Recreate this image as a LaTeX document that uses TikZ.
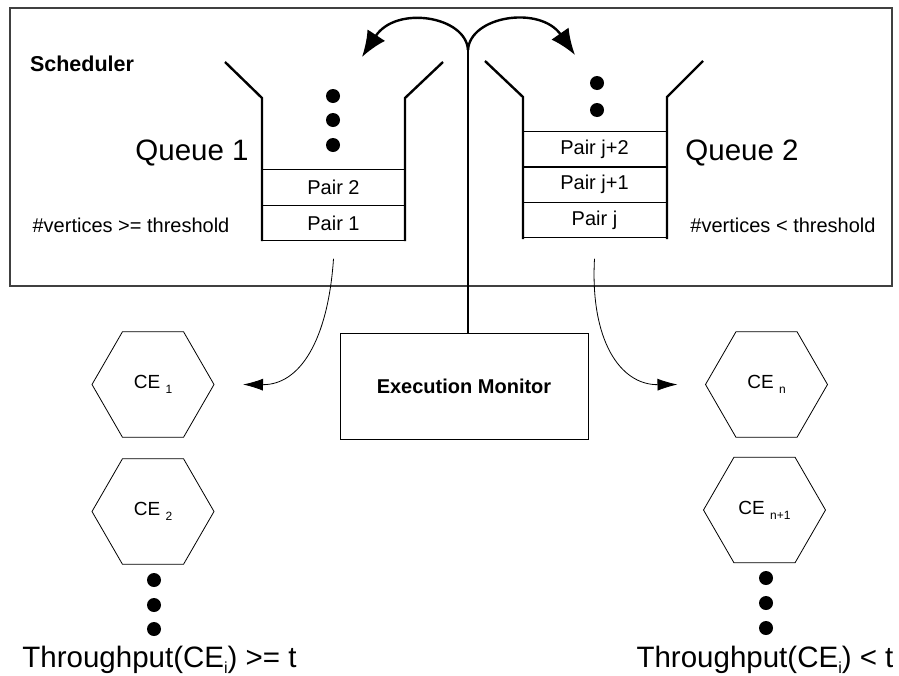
\documentclass[tikz,border=0pt]{standalone}
\usepackage{fontspec}
\setmainfont{Liberation Sans}
\usetikzlibrary{shapes.geometric,arrows.meta}
\begin{document}
\begin{tikzpicture}[x=1pt,y=-1pt,
  wall/.style={line width=2.4pt},
  pairbox/.style={draw,line width=0.9pt,minimum width=143pt,minimum height=35.5pt,inner sep=0pt,outer sep=0pt,font=\fontsize{20}{24}\selectfont},
  hexnode/.style={draw,line width=0.8pt,regular polygon,regular polygon sides=6,minimum size=122pt,inner sep=0pt,outer sep=0pt,font=\fontsize{19}{22}\selectfont},
  bigarrow/.style={line width=2.4pt,-{Latex[length=26pt,width=21pt]}},
  thinarrow/.style={line width=0.8pt,-{Latex[length=20pt,width=12pt]}},
  lbl/.style={inner sep=0pt,font=\fontsize{20}{24}\selectfont},
  big/.style={inner sep=0pt,font=\fontsize{29.5}{34}\selectfont},
  boldlbl/.style={inner sep=0pt,font=\fontsize{20}{24}\selectfont\bfseries},
  dotfill/.style={fill=black}
]
\useasboundingbox (0,0) rectangle (899,675);

% Scheduler frame
\node[draw=black!75,line width=1.1pt,minimum width=882pt,minimum height=278pt,inner sep=0pt,outer sep=0pt,anchor=north west] (sched) at (10,8) {};
\node[inner sep=0pt,font=\fontsize{21.5}{26}\selectfont\bfseries] (schedlbl) at (82,64) {Scheduler};

% Queue 1
\node[pairbox] (p2) at (333.5,187.5) {Pair 2};
\node[pairbox] (p1) at (333.5,223) {Pair 1};
\draw[wall] (225,62) -- (262,98) -- (262,241);
\draw[wall] (443,62) -- (405,98) -- (405,241);
\fill[dotfill] (333,96) circle[radius=7];
\fill[dotfill] (333,120) circle[radius=7];
\fill[dotfill] (333,145) circle[radius=7];
\node[big] (q1) at (192,153) {Queue 1};
\node[lbl] (c1) at (131,225) {\#vertices >= threshold};

% Queue 2
\node[pairbox] (pj2) at (594.5,149.5) {Pair j+2};
\node[pairbox] (pj1) at (594.5,184.5) {Pair j+1};
\node[pairbox] (pj) at (594.5,220) {Pair j};
\draw[wall] (485,61) -- (523,97) -- (523,239);
\draw[wall] (703,61) -- (667,97) -- (667,239);
\fill[dotfill] (597,83) circle[radius=7];
\fill[dotfill] (597,110) circle[radius=7];
\node[big] (q2) at (742,153) {Queue 2};
\node[lbl] (c2) at (783,225) {\#vertices < threshold};

% Execution monitor
\node[draw,line width=0.9pt,minimum width=248pt,minimum height=106pt,inner sep=0pt,outer sep=0pt] (em) at (464,386) {};
\node[boldlbl] (emlbl) at (464,386) {Execution Monitor};

\coordinate (junc) at (468,50);
\coordinate (tipL) at (362,57);
\coordinate (tipR) at (575,55);
\draw[wall] ([xshift=4pt]em.north) -- (junc);
\draw[bigarrow] (junc) .. controls (466,16) and (396,5) .. (tipL);
\draw[bigarrow] (junc) .. controls (470,16) and (540,5) .. (tipR);

% CE hexagons
\node[hexnode] (ce1) at (153,384.5) {CE \raisebox{-5pt}{\fontsize{12}{12}\selectfont 1}};
\node[hexnode] (ce2) at (153,511.5) {CE \raisebox{-5pt}{\fontsize{12}{12}\selectfont 2}};
\node[hexnode] (cen) at (766.5,384.5) {CE \raisebox{-5pt}{\fontsize{12}{12}\selectfont n}};
\node[hexnode] (cen1) at (764.5,510) {CE \raisebox{-5pt}{\fontsize{12}{12}\selectfont n+1}};

\fill[dotfill] (154,580) circle[radius=7];
\fill[dotfill] (154,605) circle[radius=7];
\fill[dotfill] (154,629) circle[radius=7];
\fill[dotfill] (766,578) circle[radius=7];
\fill[dotfill] (766,603) circle[radius=7];
\fill[dotfill] (766,628) circle[radius=7];

% dispatch arrows
\draw[thinarrow] ([yshift=-18pt]p1.south) .. controls (328,340) and (300,385) .. ([xshift=29pt]ce1.east);
\draw[thinarrow] ([yshift=-21pt]pj.south) .. controls (590,340) and (620,385) .. ([xshift=-28pt]cen.west);

% throughput labels
\node[big,anchor=base] (t1) at (159.5,667) {Throughput(CE\raisebox{-6pt}{\fontsize{16}{16}\selectfont i}) >= t};
\node[big,anchor=base] (t2) at (765,667) {Throughput(CE\raisebox{-6pt}{\fontsize{16}{16}\selectfont i}) < t};
\end{tikzpicture}
\end{document}
